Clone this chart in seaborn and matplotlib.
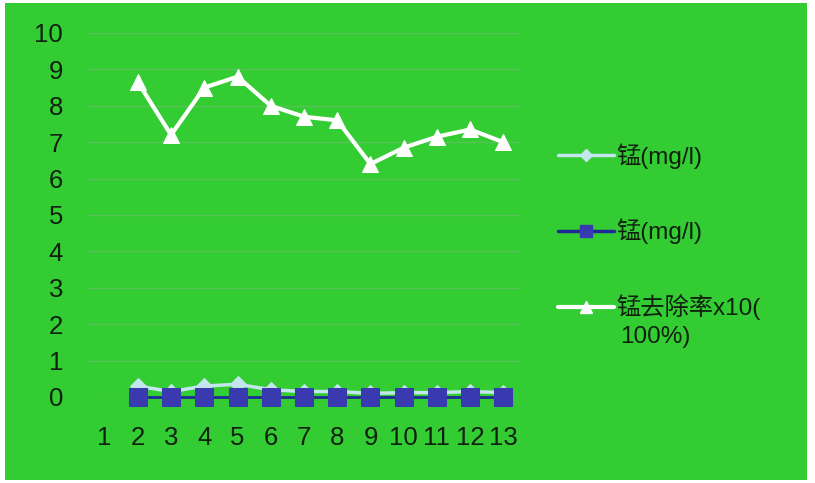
import numpy as np
import pandas as pd
import matplotlib
matplotlib.use("Agg")
import matplotlib.pyplot as plt
from matplotlib.patches import Rectangle
from matplotlib.lines import Line2D
import seaborn as sns

# Sample numbers along the x axis
samples = ["1", "2", "3", "4", "5", "6", "7", "8", "9", "10", "11", "12", "13"]
# Raw manganese (mg/l)
mn_raw = [np.nan, 0.30, 0.15, 0.30, 0.35, 0.20, 0.15, 0.15, 0.10, 0.12, 0.12, 0.15, 0.12]
# Treated manganese (mg/l)
mn_treated = [np.nan, 0.0, 0.0, 0.0, 0.0, 0.0, 0.0, 0.0, 0.0, 0.0, 0.0, 0.0, 0.0]
# Removal rate x10 (100%)
removal_x10 = [np.nan, 8.65, 7.2, 8.5, 8.8, 8.0, 7.7, 7.6, 6.4, 6.85, 7.15, 7.35, 7.0]

labels = ["锰(mg/l)", "锰(mg/l)", "锰去除率x10("]

sns.set_theme(style="white")
plt.rcParams["font.family"] = ["Liberation Sans", "Noto Sans CJK SC", "DejaVu Sans"]

GREEN = "#33cc33"
LIGHT = "#c4e6ee"
DARK_LINE = "#1f2a96"
DARK_MARK = "#3a3ab0"
WHITE = "#ffffff"
TEXT = "#0f200f"

fig = plt.figure(figsize=(8.15, 4.83), dpi=100, facecolor="white")
fig.patches.append(Rectangle((5 / 815, 3 / 483), 802 / 815, 477 / 483,
                             transform=fig.transFigure, facecolor=GREEN,
                             edgecolor="none", zorder=-5))

ax = fig.add_axes([88 / 815, (483 - 397) / 483, 432 / 815, 364 / 483])
ax.set_facecolor("none")

x = np.arange(1, len(samples) + 1)
df = pd.DataFrame({"x": x, "raw": mn_raw, "treated": mn_treated, "removal": removal_x10})

sns.lineplot(data=df, x="x", y="raw", ax=ax, color=LIGHT, lw=2.5,
             marker="D", markersize=8, markeredgecolor=LIGHT)
sns.lineplot(data=df, x="x", y="treated", ax=ax, color=DARK_LINE, lw=2,
             marker="s", markersize=13, markerfacecolor=DARK_MARK,
             markeredgecolor=DARK_MARK)
sns.lineplot(data=df, x="x", y="removal", ax=ax, color=WHITE, lw=3,
             marker="^", markersize=12, markeredgecolor=WHITE)
for ln in ax.lines:
    ln.set_clip_on(False)

ax.set_xlim(0.5, 13.5)
ax.set_ylim(0, 10)
ax.set_xticks(x)
ax.set_xticklabels(samples)
ax.set_yticks(range(0, 11))
ax.set_xlabel("")
ax.set_ylabel("")
ax.grid(axis="y", color="#58c258", lw=1)
ax.grid(axis="x", visible=False)
ax.set_axisbelow(True)
for s in ax.spines.values():
    s.set_visible(False)
ax.tick_params(axis="x", length=0, pad=21, labelsize=18.5, labelcolor=TEXT)
ax.tick_params(axis="y", length=0, pad=18, labelsize=18.5, labelcolor=TEXT)

handles = [
    Line2D([], [], color=LIGHT, lw=2.5, marker="D", markersize=6, markeredgecolor=LIGHT),
    Line2D([], [], color=DARK_LINE, lw=2.5, marker="s", markersize=8,
           markerfacecolor=DARK_MARK, markeredgecolor=DARK_MARK),
    Line2D([], [], color=WHITE, lw=3, marker="^", markersize=8, markeredgecolor=WHITE),
]
leg = fig.legend(handles, labels, loc="upper left",
                 bbox_to_anchor=(558 / 815, 1 - 143 / 483),
                 frameon=False, fontsize=17.5, handlelength=2.3, handletextpad=0.12,
                 labelspacing=2.06, borderaxespad=0, borderpad=0)
for t in leg.get_texts():
    t.set_color(TEXT)
fig.text(620 / 815, 1 - 337 / 483, "100%)", fontsize=17.5, color=TEXT,
         va="center", ha="left")

fig.savefig("out.png", dpi=100, facecolor="white")
